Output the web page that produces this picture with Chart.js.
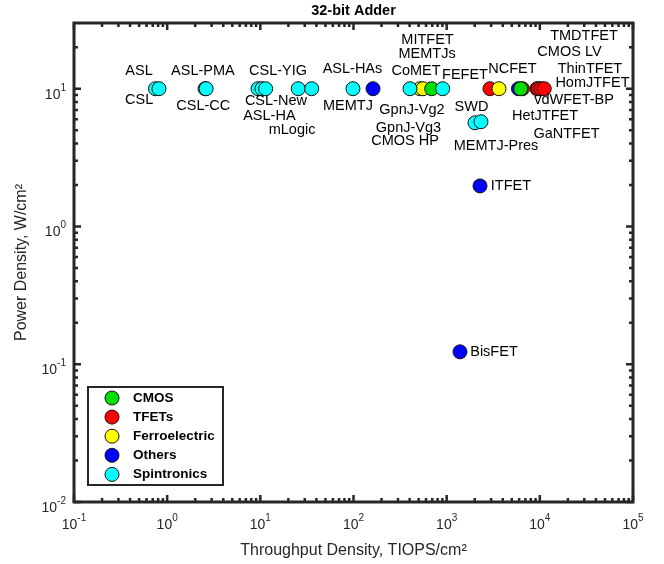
<!DOCTYPE html>
<html><head><meta charset="utf-8">
<script src="https://cdn.jsdelivr.net/npm/chart.js@4"></script>
<style>html,body{margin:0;padding:0;background:#fff;} #wrap{width:664px;height:564px;}</style>
</head><body><div id="wrap"><canvas id="c" width="664" height="564"></canvas></div>
<script>
// ---- data ----
const categories = ['CMOS', 'TFETs', 'Ferroelectric', 'Others', 'Spintronics'];
const cmosX = [691, 6226];
const cmosY = [10, 10];
const tfetX = [2917, 6500, 9300, 9620, 10300, 11160];
const tfetY = [10, 10, 10, 10, 10, 10];
const ferroX = [517, 557, 3645];
const ferroY = [10, 10, 10];
const othersX = [162, 5900, 2280, 1390];
const othersY = [10, 10, 1.97, 0.123];
const spinX = [0.749, 0.817, 2.55, 2.62, 9.44, 10.4, 11.4, 25.5, 35.6, 98.7, 404, 906, 2013, 2335];
const spinY = [10, 10, 10, 10, 10, 10, 10, 10, 10, 10, 10, 10, 5.66, 5.76];

const labelTexts = ['ASL','CSL','ASL-PMA','CSL-CC','CSL-YIG','CSL-New','ASL-HA','mLogic','ASL-HAs','MEMTJ',
  'MITFET','MEMTJs','CoMET','FEFET','NCFET','TMDTFET','CMOS LV','ThinTFET','HomJTFET','vdWFET-BP',
  'HetJTFET','GaNTFET','GpnJ-Vg2','GpnJ-Vg3','CMOS HP','SWD','MEMTJ-Pres','ITFET','BisFET'];
const labelX = [0.499, 0.5, 2.42, 2.44, 15.5, 14.7, 12.5, 21.9, 97.5, 87.3,
  623, 616, 469, 1573, 5087, 29780, 20800, 34500, 36700, 23270,
  11360, 19320, 424, 389, 357, 1846, 3383, 4900, 3220];
const labelY = [13.5, 8.32, 13.5, 7.52, 13.5, 8.09, 6.29, 5.04, 13.9, 7.52,
  22.4, 17.9, 13.4, 12.6, 13.9, 24.3, 18.5, 13.9, 11.0, 8.32,
  6.29, 4.69, 6.96, 5.18, 4.14, 7.36, 3.81, 1.98, 0.123];

const xTickExps = [-1, 0, 1, 2, 3, 4, 5];
const yTickExps = [-2, -1, 0, 1];

// ---- styling ----
const FONT = '"Liberation Sans", Arial, sans-serif';
const AX = '#262626';
const colors = ['#00e000', '#ff0000', '#ffff00', '#0000ff', '#00ffff'];
const drawOrder = [1, 4, 3, 2, 0];

function pts(xs, ys) { return xs.map((x, i) => ({x: x, y: ys[i]})); }
const seriesData = [pts(cmosX, cmosY), pts(tfetX, tfetY), pts(ferroX, ferroY), pts(othersX, othersY), pts(spinX, spinY)];

const datasets = categories.map((c, i) => ({
  label: c,
  data: seriesData[i],
  backgroundColor: colors[i],
  borderColor: '#111',
  borderWidth: 1,
  pointRadius: 7,
  pointHoverRadius: 7,
  order: drawOrder[i]
}));

function powLabel(ctx, exp, x, y, mode) {
  const base = '10', e = String(exp);
  ctx.font = '14px ' + FONT;
  const w1 = ctx.measureText(base).width;
  ctx.font = '10px ' + FONT;
  const w2 = ctx.measureText(e).width;
  let start, by, ey;
  if (mode === 'x') { start = x - (w1 + w2) / 2; by = y + 27; ey = y + 19; }
  else { start = x - 8 - (w1 + w2); by = y + 10; ey = y + 2; }
  ctx.textAlign = 'left'; ctx.textBaseline = 'alphabetic';
  ctx.font = '14px ' + FONT; ctx.fillText(base, start, by);
  ctx.font = '10px ' + FONT; ctx.fillText(e, start + w1, ey);
}

const overlay = {
  id: 'overlay',
  afterDatasetsDraw(chart) {
    const ctx = chart.ctx, xs = chart.scales.x, ys = chart.scales.y, ca = chart.chartArea;
    ctx.save();
    // point labels
    ctx.font = '14.5px ' + FONT; ctx.fillStyle = '#000';
    ctx.textAlign = 'center'; ctx.textBaseline = 'middle';
    labelTexts.forEach((t, i) => ctx.fillText(t, xs.getPixelForValue(labelX[i]), ys.getPixelForValue(labelY[i])));

    // ticks
    ctx.strokeStyle = AX; ctx.lineWidth = 2.5; ctx.lineCap = 'butt';
    const xt = [];
    for (let k = -1; k <= 5; k++) { xt.push([Math.pow(10, k), true]); if (k < 5) for (let m = 2; m <= 9; m++) xt.push([m * Math.pow(10, k), false]); }
    xt.forEach(([v, major]) => {
      const p = xs.getPixelForValue(v), L = major ? 7 : 4;
      ctx.beginPath();
      ctx.moveTo(p, ca.bottom); ctx.lineTo(p, ca.bottom - L);
      ctx.moveTo(p, ca.top); ctx.lineTo(p, ca.top + L);
      ctx.stroke();
    });
    const yt = [];
    for (let k = -2; k <= 1; k++) { yt.push([Math.pow(10, k), true]); for (let m = 2; m <= 9; m++) { const v = m * Math.pow(10, k); if (v < 30) yt.push([v, false]); } }
    yt.forEach(([v, major]) => {
      const p = ys.getPixelForValue(v), L = major ? 7 : 4;
      ctx.beginPath();
      ctx.moveTo(ca.left, p); ctx.lineTo(ca.left + L, p);
      ctx.moveTo(ca.right, p); ctx.lineTo(ca.right - L, p);
      ctx.stroke();
    });
    // frame
    ctx.lineWidth = 3;
    ctx.strokeRect(ca.left, ca.top, ca.right - ca.left, ca.bottom - ca.top);

    // tick labels
    ctx.fillStyle = AX;
    xTickExps.forEach(k => powLabel(ctx, k, xs.getPixelForValue(Math.pow(10, k)), ca.bottom, 'x'));
    yTickExps.forEach(k => powLabel(ctx, k, ca.left, ys.getPixelForValue(Math.pow(10, k)), 'y'));

    // axis titles
    const cx = (ca.left + ca.right) / 2, cy = (ca.top + ca.bottom) / 2;
    ctx.textAlign = 'center'; ctx.textBaseline = 'middle';
    ctx.font = '16px ' + FONT;
    ctx.fillText('Throughput Density, TIOPS/cm\u00B2', cx, 551);
    ctx.save();
    ctx.translate(22, cy); ctx.rotate(-Math.PI / 2);
    ctx.fillText('Power Density, W/cm\u00B2', 0, 0);
    ctx.restore();
    // title
    ctx.fillStyle = '#000';
    ctx.font = 'bold 14.5px ' + FONT;
    ctx.fillText('32-bit Adder', cx, 11);

    // legend
    const lx = 88, ly = 387, lw = 135, lh = 98;
    ctx.fillStyle = '#fff'; ctx.fillRect(lx, ly, lw, lh);
    ctx.strokeStyle = AX; ctx.lineWidth = 2; ctx.strokeRect(lx, ly, lw, lh);
    chart.data.datasets.forEach((ds, i) => {
      const y = 398 + i * 19.1;
      ctx.beginPath(); ctx.arc(112, y, 7, 0, Math.PI * 2);
      ctx.fillStyle = ds.backgroundColor; ctx.fill();
      ctx.lineWidth = 1; ctx.strokeStyle = '#111'; ctx.stroke();
      ctx.fillStyle = '#000'; ctx.font = 'bold 13.5px ' + FONT;
      ctx.textAlign = 'left'; ctx.textBaseline = 'middle';
      ctx.fillText(ds.label, 133, y);
    });
    ctx.restore();
  }
};

new Chart(document.getElementById('c'), {
  type: 'scatter',
  data: { datasets: datasets },
  options: {
    responsive: false,
    animation: false,
    devicePixelRatio: 1,
    layout: { padding: { left: 74, right: 31, top: 23, bottom: 62 } },
    plugins: { legend: { display: false }, tooltip: { enabled: false }, title: { display: false } },
    scales: {
      x: { type: 'logarithmic', min: 0.1, max: 100000, display: false },
      y: { type: 'logarithmic', min: 0.01, max: 30, display: false }
    }
  },
  plugins: [overlay]
});
</script>
</body></html>
